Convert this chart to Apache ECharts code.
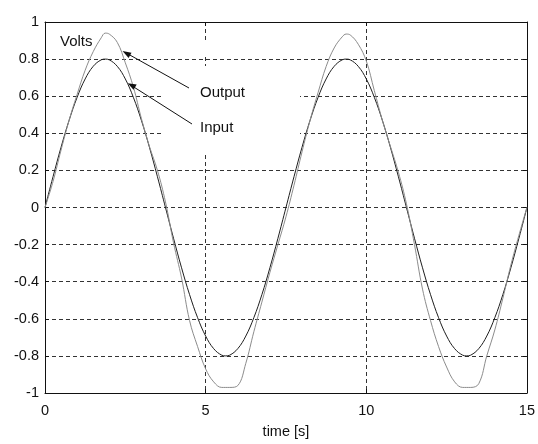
<!DOCTYPE html>
<html>
<head>
<meta charset="utf-8">
<script src="https://cdn.jsdelivr.net/npm/echarts@6/dist/echarts.min.js"></script>
<style>
html,body{margin:0;padding:0;background:#fff;}
#chart{width:538px;height:444px;}
</style>
</head>
<body>
<div id="chart"></div>
<script>
// time samples [s]
var times = [0,0.25,0.5,0.75,1,1.25,1.5,1.75,1.875,2,2.25,2.5,2.75,3,3.25,3.5,3.75,4,4.25,4.5,4.75,5,5.25,5.5,5.625,5.75,6,6.25,6.5,6.75,7,7.25,7.5,
  7.75,8,8.25,8.5,8.75,9,9.25,9.375,9.5,9.75,10,10.25,10.5,10.75,11,11.25,11.5,11.75,12,12.25,12.5,12.75,13,13.125,13.25,13.5,13.75,14,14.25,14.5,14.75,15];
// Input voltage
var inputVolts = [0,0.166,0.325,0.470,0.594,0.693,0.761,0.796,0.80,0.796,0.761,0.693,0.594,0.470,0.325,0.166,0,-0.166,-0.325,-0.470,-0.594,-0.693,-0.761,-0.796,-0.80,-0.796,-0.761,-0.693,-0.594,-0.470,-0.325,-0.166,0,
  0.166,0.325,0.470,0.594,0.693,0.761,0.796,0.80,0.796,0.761,0.693,0.594,0.470,0.325,0.166,0,-0.166,-0.325,-0.470,-0.594,-0.693,-0.761,-0.796,-0.80,-0.796,-0.761,-0.693,-0.594,-0.470,-0.325,-0.166,0];
// Output voltage
var outputVolts = [0,0.14,0.31,0.47,0.61,0.74,0.84,0.915,0.94,0.935,0.89,0.78,0.65,0.48,0.33,0.20,0.03,-0.19,-0.38,-0.61,-0.75,-0.87,-0.94,-0.97,-0.97,-0.97,-0.96,-0.84,-0.67,-0.51,-0.35,-0.20,-0.05,
  0.12,0.30,0.47,0.62,0.76,0.86,0.92,0.935,0.93,0.88,0.79,0.63,0.47,0.33,0.19,0.02,-0.20,-0.44,-0.61,-0.75,-0.86,-0.94,-0.97,-0.97,-0.97,-0.95,-0.80,-0.66,-0.49,-0.31,-0.15,0.0];
var xTicks = [0,5,10,15];
var yTicks = [-1,-0.8,-0.6,-0.4,-0.2,0,0.2,0.4,0.6,0.8,1];
var xName = 'time [s]';
var yName = 'Volts';
var labelOutput = 'Output';
var labelInput = 'Input';

function pairs(xs, ys){ return xs.map(function(x,i){ return [x, ys[i]]; }); }

var FONT = '"Liberation Sans", Arial, Helvetica, sans-serif';
var gridStyle = {show:true, showMinLine:false, showMaxLine:false, lineStyle:{color:'#333', width:1, type:[4,3]}};

var chart = echarts.init(document.getElementById('chart'), null, {renderer:'canvas'});
chart.setOption({
  backgroundColor:'#fff',
  animation:false,
  grid:{left:45, right:10, top:22, bottom:43, show:false},
  xAxis:[{
    type:'value', min:0, max:15, interval:5,
    name:xName, nameLocation:'middle', nameGap:31,
    nameTextStyle:{fontFamily:FONT, fontSize:14.5, color:'#111'},
    axisLine:{show:true, onZero:false, lineStyle:{color:'#111', width:1}},
    axisTick:{show:true, inside:true, length:4, lineStyle:{color:'#111'}},
    axisLabel:{fontFamily:FONT, fontSize:14.5, color:'#111', margin:10, formatter:function(v){return xTicks.indexOf(v)>=0? String(v):'';}},
    splitLine:gridStyle
  },{
    type:'value', min:0, max:15, interval:5, position:'top',
    axisLine:{show:true, onZero:false, lineStyle:{color:'#111', width:1}},
    axisTick:{show:true, inside:true, length:4, lineStyle:{color:'#111'}},
    axisLabel:{show:false}, splitLine:{show:false}
  }],
  yAxis:[{
    type:'value', min:-1, max:1, interval:0.2,
    axisLine:{show:true, onZero:false, lineStyle:{color:'#111', width:1}},
    axisTick:{show:true, inside:true, length:4, lineStyle:{color:'#111'}},
    axisLabel:{fontFamily:FONT, fontSize:14.5, color:'#111', margin:6,
      formatter:function(v){ var r=Math.round(v*10)/10; return r===0?'0':String(r); }},
    splitLine:gridStyle
  },{
    type:'value', min:-1, max:1, interval:0.2, position:'right',
    axisLine:{show:true, onZero:false, lineStyle:{color:'#111', width:1}},
    axisTick:{show:true, inside:true, length:4, lineStyle:{color:'#111'}},
    axisLabel:{show:false}, splitLine:{show:false}
  }],
  series:[{
    name:labelInput, type:'line', data:pairs(times, inputVolts),
    showSymbol:false, smooth:0.4, z:3,
    lineStyle:{color:'#1e1e1e', width:1}
  },{
    name:labelOutput, type:'line', data:pairs(times, outputVolts),
    showSymbol:false, smooth:0.4, z:3,
    lineStyle:{color:'#8c8c8c', width:1}
  }],
  graphic:[
    {type:'rect', z:1, shape:{x:163, y:66, width:137, height:86}, style:{fill:'#fff'}, silent:true},
    {type:'rect', z:1, shape:{x:203, y:43, width:8, height:14}, style:{fill:'#fff'}, silent:true},
    {type:'text', z:10, left:60, top:34, style:{text:yName, font:'15px '+FONT, fill:'#111'}},
    {type:'text', z:10, left:200, top:85, style:{text:labelOutput, font:'15px '+FONT, fill:'#111'}},
    {type:'text', z:10, left:200, top:120, style:{text:labelInput, font:'15px '+FONT, fill:'#111'}},
    {type:'line', z:10, shape:{x1:189, y1:88, x2:128, y2:54}, style:{stroke:'#111', lineWidth:1}},
    {type:'polygon', z:10, shape:{points:[[122.5,51],[131.5,52.8],[128.6,58]]}, style:{fill:'#111'}},
    {type:'line', z:10, shape:{x1:192, y1:124, x2:133, y2:86.5}, style:{stroke:'#111', lineWidth:1}},
    {type:'polygon', z:10, shape:{points:[[127.7,83.3],[136.7,84.6],[133.5,89.7]]}, style:{fill:'#111'}}
  ]
});
</script>
</body>
</html>
